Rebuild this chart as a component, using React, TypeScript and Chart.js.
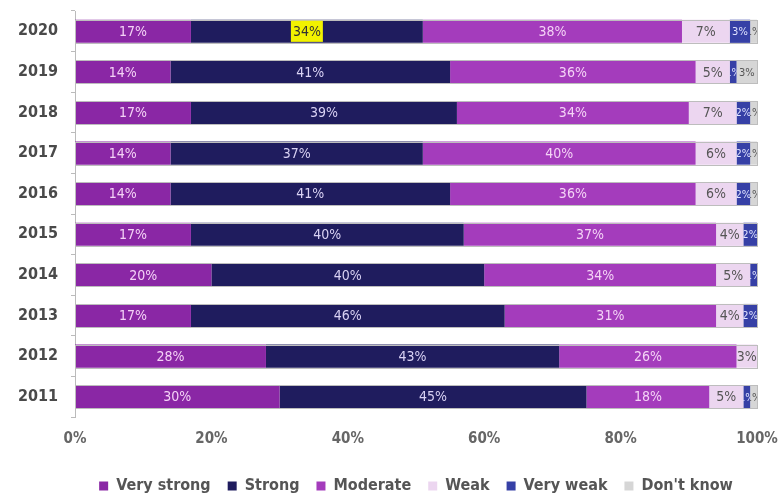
import React, { useEffect, useRef } from "react";
import { Chart, registerables } from "chart.js";

Chart.register(...registerables);

const years = ["2020", "2019", "2018", "2017", "2016", "2015", "2014", "2013", "2012", "2011"];
const seriesNames = ["Very strong", "Strong", "Moderate", "Weak", "Very weak", "Don't know"];
const veryStrong = [17, 14, 17, 14, 14, 17, 20, 17, 28, 30];
const strong = [34, 41, 39, 37, 41, 40, 40, 46, 43, 45];
const moderate = [38, 36, 34, 40, 36, 37, 34, 31, 26, 18];
const weak = [7, 5, 7, 6, 6, 4, 5, 4, 3, 5];
const veryWeak = [3, 1, 2, 2, 2, 2, 1, 2, 0, 1];
const dontKnow = [1, 3, 1, 1, 1, 0, 0, 0, 0, 1];
const xTicks = [0, 20, 40, 60, 80, 100];

const colors = ["#8a27a5", "#1f1c5e", "#a43cbc", "#ecd6f0", "#3640a6", "#d6d6d6"];
const labelColors = ["#f4d2f6", "#d9d2f4", "#f4d2f6", "#555555", "#dfe2ff", "#555555"];
const highlight = { year: "2020", series: 1 };

const FONT = "'Liberation Sans Narrow', 'DejaVu Sans Condensed', 'Liberation Sans', sans-serif";

const labelPlugin = {
  id: "segLabels",
  afterDatasetsDraw(chart: any) {
    const ctx = chart.ctx;
    const n = chart.data.labels.length;
    const first = chart.getDatasetMeta(0);
    const last = chart.getDatasetMeta(chart.data.datasets.length - 1);
    ctx.save();
    ctx.strokeStyle = "#bdbdbd";
    ctx.lineWidth = 1;
    for (let i = 0; i < n; i++) {
      const a = first.data[i];
      const b = last.data[i];
      const left = a.base;
      const right = b.x;
      const top = a.y - a.height / 2;
      ctx.strokeRect(Math.round(left) + 0.5, Math.round(top) + 0.5, Math.round(right - left), Math.round(a.height));
    }
    ctx.restore();

    chart.data.datasets.forEach((ds: any, di: number) => {
      const meta = chart.getDatasetMeta(di);
      meta.data.forEach((el: any, i: number) => {
        const v = ds.data[i];
        if (!v) return;
        const left = Math.min(el.x, el.base);
        const right = Math.max(el.x, el.base);
        const cx = (left + right) / 2;
        const cy = el.y;
        const text = v + "%";
        ctx.save();
        ctx.textAlign = "center";
        ctx.textBaseline = "middle";
        if (di >= 4) {
          ctx.beginPath();
          ctx.rect(left, cy - el.height / 2, right - left, el.height);
          ctx.clip();
          ctx.font = "11px " + FONT;
        } else {
          ctx.font = "14px " + FONT;
        }
        const isHl = chart.data.labels[i] === highlight.year && di === highlight.series;
        if (isHl) {
          const w = ctx.measureText(text).width + 4;
          ctx.fillStyle = "#f2f200";
          ctx.fillRect(cx - w / 2, cy - el.height / 2 + 1, w, el.height - 2);
          ctx.fillStyle = "#333333";
        } else {
          ctx.fillStyle = labelColors[di];
        }
        ctx.fillText(text, cx, cy + 1);
        ctx.restore();
      });
    });
  },
};

export default function App() {
  const ref = useRef<HTMLCanvasElement>(null);
  useEffect(() => {
    const values = [veryStrong, strong, moderate, weak, veryWeak, dontKnow];
    const chart = new Chart(ref.current as HTMLCanvasElement, {
      type: "bar",
      data: {
        labels: years,
        datasets: seriesNames.map((name, i) => ({
          label: name,
          data: values[i],
          backgroundColor: colors[i],
          borderWidth: 0,
          barPercentage: 0.57,
          categoryPercentage: 1,
        })),
      },
      options: {
        indexAxis: "y",
        animation: false,
        responsive: false,
        maintainAspectRatio: false,
        layout: { padding: { left: 0, right: 25, top: 11, bottom: -9 } },
        scales: {
          x: {
            stacked: true,
            min: 0,
            max: 100,
            afterBuildTicks: (axis: any) => {
              axis.ticks = xTicks.map((v) => ({ value: v }));
            },
            afterFit: (axis: any) => {
              axis.height = 44;
              axis.paddingLeft = 0;
              axis.paddingRight = 0;
            },
            grid: { display: false, drawTicks: false },
            border: { display: false },
            ticks: {
              padding: 13,
              color: "#666666",
              font: { family: FONT, size: 15, weight: "bold" },
              callback: (v: any) => v + "%",
            },
          },
          y: {
            stacked: true,
            afterFit: (axis: any) => {
              axis.width = 75;
              axis.paddingTop = 0;
              axis.paddingBottom = 0;
            },
            grid: { display: true, drawOnChartArea: false, offset: true, tickLength: 4, color: "#bbbbbb" },
            border: { display: true, color: "#bbbbbb" },
            ticks: {
              padding: 13,
              color: "#4a4a4a",
              font: { family: FONT, size: 16, weight: "bold" },
            },
          },
        },
        plugins: {
          legend: {
            position: "bottom",
            fullSize: false,
            labels: {
              boxWidth: 9,
              boxHeight: 9,
              padding: 17,
              color: "#555555",
              font: { family: FONT, size: 16, weight: "bold" },
            },
          },
          tooltip: { enabled: false },
        },
      },
      plugins: [labelPlugin],
    } as any);
    return () => chart.destroy();
  }, []);
  return (
    <div style={{ position: "fixed", left: 0, top: 0, width: 782, height: 495, background: "#ffffff" }}>
      <canvas ref={ref} width={782} height={495} style={{ width: 782, height: 495 }} />
    </div>
  );
}
